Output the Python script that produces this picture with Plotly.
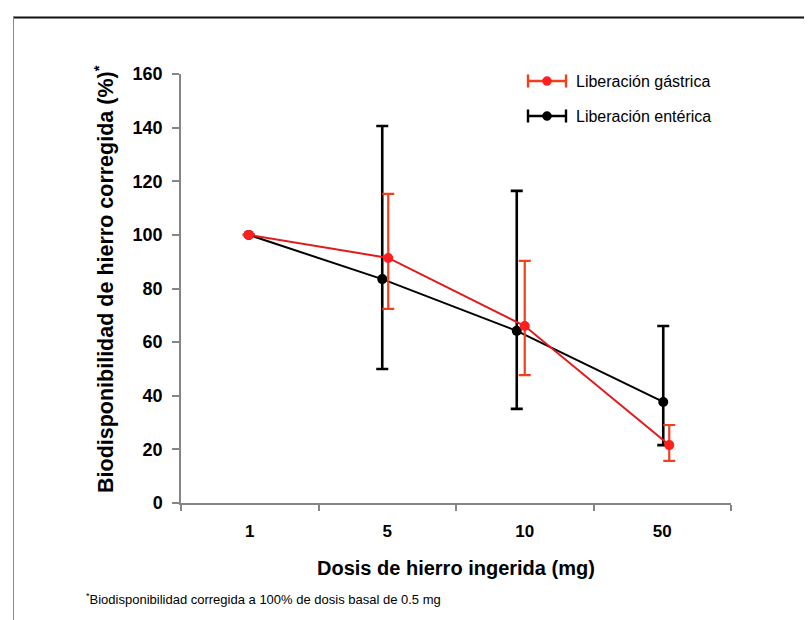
import plotly.graph_objects as go

dosis = ["1", "5", "10", "50"]
pos = [1, 2, 3, 4]

gastrica = [100, 91.4, 66, 21.6]
gastrica_sup = [0, 23.9, 24.3, 7.5]
gastrica_inf = [0, 19, 18.3, 5.9]

enterica = [100, 83.5, 64.2, 37.7]
enterica_sup = [0, 57.1, 52.2, 28.3]
enterica_inf = [0, 33.5, 29.1, 16.1]

# small horizontal shifts (in pixels) of each series around its category
shift_enterica = [-1, -5, -8, 1]
shift_gastrica = [-1, 1, 0, 7]

# layout geometry (pixels)
W, H = 812, 620
L, R, T, B = 173, 89, 66, 125
PW, PH = W - L - R, H - T - B
CAT_W = PW / 4.0

def px(x):
    return (x - L) / PW

def py(y):
    return (H - B - y) / PH

RED_LINE = "#e21a1c"
RED_ERR = "#f0401e"
RED_MARK = "#ff1f1f"
BLACK = "#000000"
AXIS = "#858585"
FONT = "Liberation Sans, Arial, sans-serif"

fig = go.Figure()

fig.add_trace(go.Scatter(
    x=[p + s / CAT_W for p, s in zip(pos, shift_enterica)], y=enterica,
    name="Liberación entérica", mode="lines+markers",
    line=dict(color=BLACK, width=2),
    marker=dict(color=BLACK, size=10),
    error_y=dict(type="data", symmetric=False, array=enterica_sup,
                 arrayminus=enterica_inf, color=BLACK, thickness=2.6, width=6),
))
fig.add_trace(go.Scatter(
    x=[p + s / CAT_W for p, s in zip(pos, shift_gastrica)], y=gastrica,
    name="Liberación gástrica", mode="lines+markers",
    line=dict(color=RED_LINE, width=2),
    marker=dict(color=RED_MARK, size=10),
    error_y=dict(type="data", symmetric=False, array=gastrica_sup,
                 arrayminus=gastrica_inf, color=RED_ERR, thickness=2.2, width=6),
))

fig.update_layout(
    width=W, height=H,
    margin=dict(l=L, r=R, t=T, b=B),
    paper_bgcolor="white", plot_bgcolor="white",
    font=dict(family=FONT, color=BLACK),
    showlegend=False,
    xaxis=dict(
        range=[0.5, 4.5], tickvals=pos, ticktext=dosis, ticks="",
        showline=True, linecolor=AXIS, linewidth=1.5, showgrid=False,
        zeroline=False, ticklabelstandoff=12,
        tickfont=dict(size=17, family=FONT, weight="bold", color=BLACK),
        minor=dict(tickvals=[0.5, 1.5, 2.5, 3.5, 4.5], ticks="outside",
                   ticklen=6, tickcolor=AXIS, tickwidth=1.5, showgrid=False),
    ),
    yaxis=dict(
        range=[0, 160], dtick=20, ticks="outside", ticklen=7,
        tickcolor=AXIS, tickwidth=1.5, ticklabelstandoff=6,
        showline=True, linecolor=AXIS, linewidth=1.5, showgrid=False,
        zeroline=False,
        tickfont=dict(size=18, family=FONT, weight="bold", color=BLACK),
    ),
)

# axis titles
fig.add_annotation(
    xref="paper", yref="paper", x=px(448), y=py(560),
    xanchor="center", yanchor="middle", showarrow=False,
    text="Dosis de hierro ingerida (mg)",
    font=dict(size=20, family=FONT, weight="bold", color=BLACK),
)
fig.add_annotation(
    xref="paper", yref="paper", x=px(96), y=py(271),
    xanchor="center", yanchor="middle", showarrow=False, textangle=-90,
    text="Biodisponibilidad de hierro corregida (%)<sup>*</sup>",
    font=dict(size=21.5, family=FONT, weight="bold", color=BLACK),
)

# footnote
fig.add_annotation(
    xref="paper", yref="paper", x=px(76), y=py(591),
    xanchor="left", yanchor="middle", showarrow=False,
    text="<sup>*</sup>Biodisponibilidad corregida a 100% de dosis basal de 0.5 mg",
    font=dict(size=13, family=FONT, color=BLACK),
)

# legend (drawn by hand so the symbol shows error-bar caps)
legend_items = [("Liberación gástrica", RED_ERR, RED_MARK, 73),
                ("Liberación entérica", BLACK, BLACK, 108)]
for label, lc, mc, yy in legend_items:
    fig.add_shape(type="line", xref="paper", yref="paper",
                  x0=px(520), x1=px(558), y0=py(yy), y1=py(yy),
                  line=dict(color=lc, width=2.4))
    for cx in (520, 558):
        fig.add_shape(type="line", xref="paper", yref="paper",
                      x0=px(cx), x1=px(cx), y0=py(yy - 6.5), y1=py(yy + 6.5),
                      line=dict(color=lc, width=2.4))
    fig.add_shape(type="circle", xref="paper", yref="paper",
                  x0=px(534.5), x1=px(543.5), y0=py(yy - 4.5), y1=py(yy + 4.5),
                  fillcolor=mc, line=dict(color=mc, width=0.5))
    fig.add_annotation(xref="paper", yref="paper", x=px(566), y=py(yy),
                       xanchor="left", yanchor="middle", showarrow=False,
                       text=label, font=dict(size=16, family=FONT, color=BLACK))

# frame lines around the figure
fig.add_shape(type="line", xref="paper", yref="paper",
              x0=px(5), x1=px(815), y0=py(9.5), y1=py(9.5),
              line=dict(color="#111111", width=2))
fig.add_shape(type="line", xref="paper", yref="paper",
              x0=px(5.5), x1=px(5.5), y0=py(9), y1=py(625),
              line=dict(color="#8a8a8a", width=1))

fig.write_html("out.html")
